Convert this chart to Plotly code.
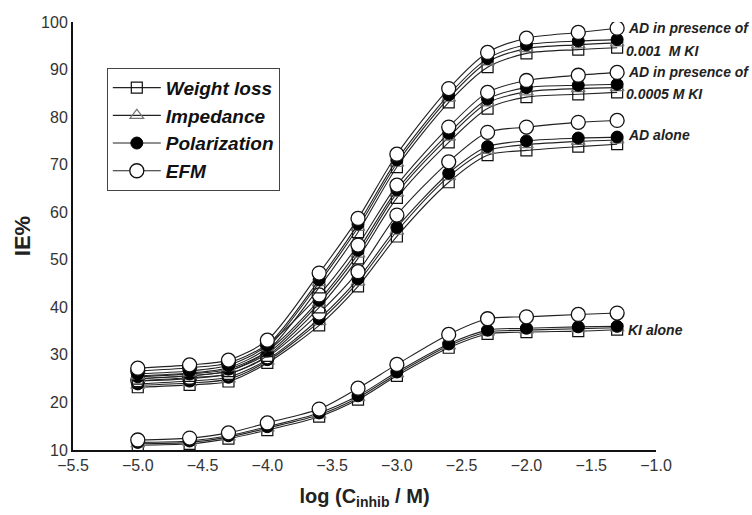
import plotly.graph_objects as go

# log of inhibitor concentration
x_log = [-5.0, -4.6, -4.3, -4.0, -3.6, -3.3, -3.0, -2.6, -2.3, -2.0, -1.6, -1.3]

# AD in presence of 0.001 M KI
wl_A = [25.0, 25.6, 26.6, 30.8, 44.2, 55.8, 69.5, 83.1, 90.5, 93.4, 94.2, 94.6]
imp_A = [25.6, 26.2, 27.3, 31.5, 45.2, 56.8, 70.3, 84.0, 91.6, 94.4, 95.2, 95.6]
pol_A = [26.0, 26.6, 27.8, 32.0, 45.8, 57.5, 71.0, 84.7, 92.3, 95.2, 96.0, 96.3]
efm_A = [27.2, 27.9, 28.9, 33.1, 47.2, 58.7, 72.2, 86.0, 93.6, 96.6, 97.8, 98.7]

# AD in presence of 0.0005 M KI
wl_B = [24.5, 25.0, 26.0, 29.8, 40.0, 50.3, 63.0, 74.7, 81.8, 84.2, 84.8, 85.2]
imp_B = [25.0, 25.6, 26.6, 30.3, 40.9, 51.2, 64.0, 75.8, 83.0, 85.3, 86.0, 86.2]
pol_B = [25.4, 26.0, 27.0, 30.8, 41.5, 52.0, 64.7, 76.6, 83.8, 86.2, 86.7, 86.9]
efm_B = [26.6, 27.3, 28.3, 32.2, 42.6, 53.1, 65.7, 77.9, 85.2, 87.7, 88.8, 89.4]

# AD alone
wl_C = [23.2, 23.7, 24.4, 28.3, 36.2, 44.4, 54.9, 66.3, 72.0, 73.0, 73.8, 74.3]
imp_C = [23.6, 24.1, 24.9, 28.7, 37.0, 45.3, 56.0, 67.5, 73.0, 74.2, 74.9, 75.2]
pol_C = [23.9, 24.5, 25.3, 29.0, 37.6, 46.0, 56.8, 68.2, 73.8, 75.0, 75.6, 75.8]
efm_C = [24.6, 25.2, 26.0, 29.6, 38.8, 47.5, 59.4, 70.6, 76.8, 77.9, 78.9, 79.3]

# KI alone
wl_K = [11.0, 11.3, 12.4, 14.2, 17.0, 20.6, 25.6, 31.5, 34.4, 34.8, 35.0, 35.3]
imp_K = [11.3, 11.6, 12.7, 14.6, 17.4, 21.0, 26.0, 31.9, 34.8, 35.2, 35.5, 35.7]
pol_K = [11.6, 11.9, 13.0, 14.9, 17.8, 21.4, 26.4, 32.3, 35.2, 35.6, 35.9, 36.0]
efm_K = [12.1, 12.5, 13.6, 15.7, 18.6, 23.0, 28.0, 34.3, 37.6, 38.0, 38.5, 38.8]

method_names = ["Weight loss", "Impedance", "Polarization", "EFM"]
groups = [
    [wl_K, imp_K, pol_K, efm_K],
    [wl_C, imp_C, pol_C, efm_C],
    [wl_B, imp_B, pol_B, efm_B],
    [wl_A, imp_A, pol_A, efm_A],
]
# label lines and the y level of their first line
group_labels = [
    (["KI alone"], 35.2),
    (["AD alone"], 76.2),
    (["AD in presence of", "0.0005 M KI"], 89.5),
    (["AD in presence of", "0.001  M KI"], 98.7),
]

marker_styles = [
    dict(symbol="square-open", size=11, color="#111", line=dict(width=1.2)),
    dict(symbol="triangle-up-open", size=12, color="#777", line=dict(width=1.2)),
    dict(symbol="circle", size=12, color="#000", line=dict(width=1, color="#000")),
    dict(symbol="circle", size=14, color="#fff", line=dict(width=1.3, color="#111")),
]

fig = go.Figure()
for gi, series in enumerate(groups):
    for mi, ys in enumerate(series):
        fig.add_trace(go.Scatter(
            x=x_log, y=ys, mode="lines+markers",
            line=dict(color="#222", width=1.1, shape="spline", smoothing=0.8),
            marker=marker_styles[mi],
            name="<b><i>" + method_names[mi] + "</i></b>",
            legendgroup=method_names[mi],
            legendrank=mi + 1,
            showlegend=(gi == 0),
        ))

ann = []
for lines, yv in group_labels:
    for li, txt in enumerate(lines):
        ann.append(dict(x=-1.235 if li == 0 else -1.245, y=yv - 4.7 * li, xref="x", yref="y",
                        text="<b><i>" + txt + "</i></b>", showarrow=False,
                        xanchor="left", yanchor="middle",
                        font=dict(family="Liberation Sans, Arial", size=14, color="#222")))

fig.update_layout(
    width=752, height=515,
    margin=dict(l=73, r=96, t=22, b=65),
    paper_bgcolor="white", plot_bgcolor="white",
    font=dict(family="Liberation Sans, Arial", color="#222"),
    showlegend=True,
    legend=dict(
        x=0.058, y=0.893, xanchor="left", yanchor="top",
        bordercolor="#444", borderwidth=1, bgcolor="white",
        font=dict(size=19, color="#111"),
        itemwidth=48, tracegroupgap=0,
    ),
    annotations=ann,
    xaxis=dict(
        range=[-5.5, -1.0], dtick=0.5, tick0=-5.5, tickformat=".1f",
        showline=True, linecolor="#111", linewidth=2,
        showgrid=False, zeroline=False, ticks="",
        tickfont=dict(size=16, color="#333"),
        title=dict(text="<b>log (C<sub>inhib</sub> / M)</b>", font=dict(size=20, color="#222"), standoff=16),
    ),
    yaxis=dict(
        range=[10, 100], dtick=10,
        showline=True, linecolor="#111", linewidth=2,
        showgrid=False, zeroline=False, ticks="",
        tickfont=dict(size=16, color="#333"),
        title=dict(text="<b>IE%</b>", font=dict(size=22, color="#222"), standoff=4),
    ),
)

fig.write_html("out.html")
